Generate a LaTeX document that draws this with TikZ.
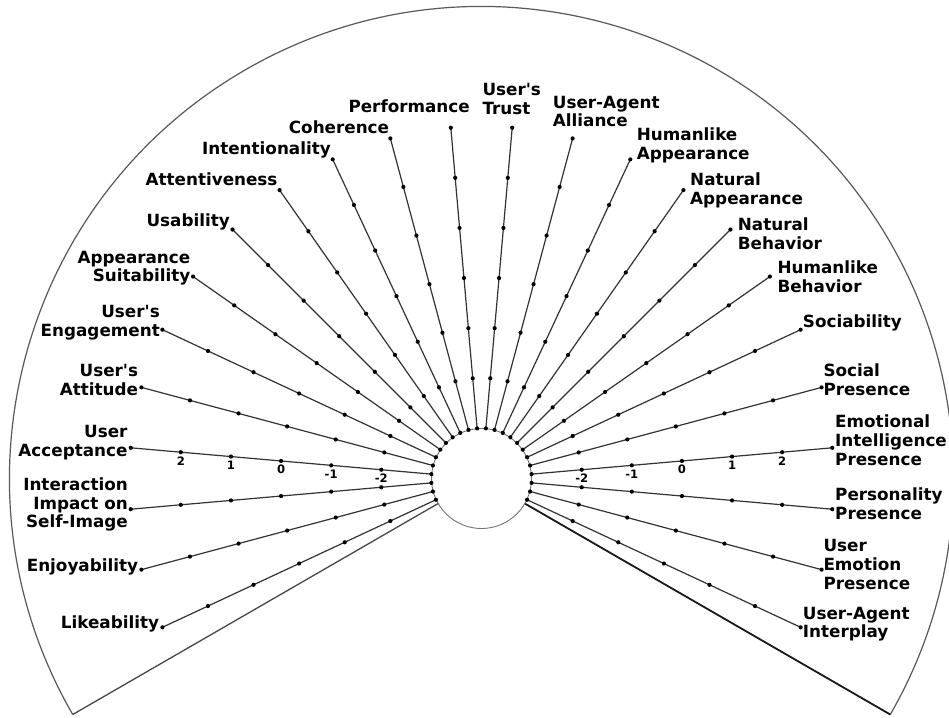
\documentclass[tikz,border=0pt]{standalone}
\usepackage{fontspec}
\setmainfont{DejaVu Sans}
\begin{document}
\begin{tikzpicture}[x=1pt,y=1pt,
  spoke/.style={draw=black!80, line width=1.2pt},
  arcline/.style={draw=black!65, line width=1.2pt},
  leftb/.style={draw=black!72, line width=1.3pt},
  rightb/.style={draw=black!90, line width=1.8pt},
  lbl/.style={font=\fontsize{16.8}{18.8}\selectfont\bfseries, inner sep=0pt, text=black},
  lbll/.style={lbl, anchor=north east, align=right},
  lblr/.style={lbl, anchor=north west, align=left},
  tick/.style={font=\fontsize{11.6}{12}\selectfont\bfseries, inner sep=0pt, yshift=-8.7pt}]
\useasboundingbox (-481.5,-238.5) rectangle (467.5,478.5);
\fill[white] (-481.5,-238.5) rectangle (467.5,478.5);
% outer wedge
\coordinate (bl) at (210:472);
\coordinate (br) at (-30:472);
\draw[arcline] (bl) arc[start angle=210, end angle=-30, radius=472];
% centre circle
\node[circle, draw=black!55, line width=0.9pt, minimum size=100pt, inner sep=0pt] (c) at (0,0) {};
\draw[leftb] (c.210) -- (bl);
\draw[rightb] (c.-30) -- (br);
% spokes
\foreach \i in {0,...,23} {
  \pgfmathtruncatemacro\a{-25+10*\i}
  \coordinate (e\i) at (\a:352.1);
  \draw[spoke] (c.\a) -- (e\i);
  \foreach \k in {1,...,7} { \fill[black] (\a:50.3*\k) circle (2.1); }
}
% tick labels
\node[tick] (tl2) at (175:301.8) {2};
\node[tick] (tl1) at (175:251.5) {1};
\node[tick] (tl0) at (175:201.2) {0};
\node[tick] (tlm1) at (175:150.9) {-1};
\node[tick] (tlm2) at (175:100.6) {-2};
\node[tick] (trm2) at (5:100.6) {-2};
\node[tick] (trm1) at (5:150.9) {-1};
\node[tick] (tr0) at (5:201.2) {0};
\node[tick] (tr1) at (5:251.5) {1};
\node[tick] (tr2) at (5:301.8) {2};
% left labels
\node[lbll] (l95) at (-11.5,378.5) {Performance};
\node[lbll] (l105) at (-92.2,357.8) {Coherence};
\node[lbll] (l115) at (-150.5,336.8) {Intentionality};
\node[lbll] (l125) at (-203.8,305.8) {Attentiveness};
\node[lbll] (l135) at (-251.5,265.2) {Usability};
\node[lbll] (l145) at (-291,227.8) {Appearance\\Suitability};
\node[lbll] (l155) at (-321.5,173.5) {User\textquotesingle s\\Engagement};
\node[lbll] (l165) at (-343.2,114.5) {User\textquotesingle s\\Attitude};
\node[lbll] (l175) at (-353.8,53.5) {User\\Acceptance};
\node[lbll] (l185) at (-353.5,1.2) {Interaction\\Impact on\\Self-Image};
\node[lbll] (l195) at (-343.2,-79.8) {Enjoyability};
\node[lbll] (l205) at (-322.2,-137.5) {Likeability};
% right labels
\node[lblr] (r85) at (0.8,395.2) {User\textquotesingle s\\Trust};
\node[lblr] (r75) at (71.2,382.8) {User-Agent\\Alliance};
\node[lblr] (r65) at (155.2,350.8) {Humanlike\\Appearance};
\node[lblr] (r55) at (208.5,305.8) {Natural\\Appearance};
\node[lblr] (r45) at (256.2,260.8) {Natural\\Behavior};
\node[lblr] (r35) at (295.8,217.5) {Humanlike\\Behavior};
\node[lblr] (r25) at (321.2,164.2) {Sociability};
\node[lblr] (r15) at (341.8,115.2) {Social\\Presence};
\node[lblr] (r5) at (353.5,63.5) {Emotional\\Intelligence\\Presence};
\node[lblr] (rm5) at (353.5,-9.2) {Personality\\Presence};
\node[lblr] (rm15) at (341.8,-60.8) {User\\Emotion\\Presence};
\node[lblr] (rm25) at (321.2,-128.2) {User-Agent\\Interplay};
\end{tikzpicture}
\end{document}
